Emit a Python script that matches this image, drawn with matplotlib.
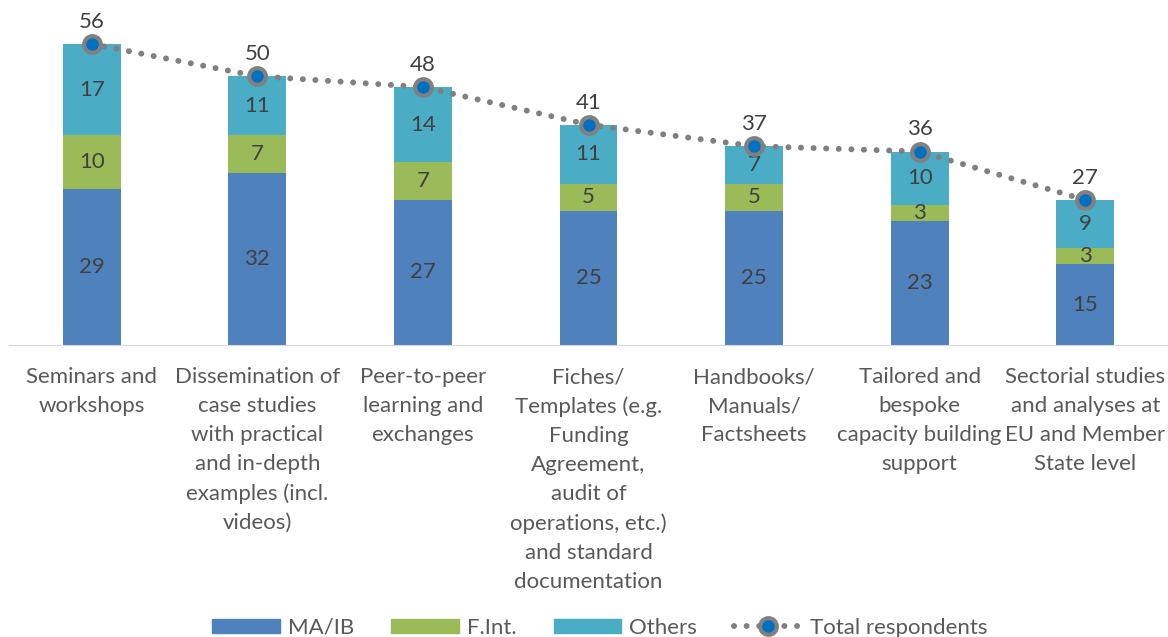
import numpy as np
import matplotlib.pyplot as plt
from matplotlib.lines import Line2D
from matplotlib.patches import Patch

# data
categories = [
    "Seminars and\nworkshops",
    "Dissemination of\ncase studies\nwith practical\nand in-depth\nexamples (incl.\nvideos)",
    "Peer-to-peer\nlearning and\nexchanges",
    "Fiches/\nTemplates (e.g.\nFunding\nAgreement,\naudit of\noperations, etc.)\nand standard\ndocumentation",
    "Handbooks/\nManuals/\nFactsheets",
    "Tailored and\nbespoke\ncapacity building\nsupport",
    "Sectorial studies\nand analyses at\nEU and Member\nState level",
]
ma_ib = [29, 32, 27, 25, 25, 23, 15]
f_int = [10, 7, 7, 5, 5, 3, 3]
others = [17, 11, 14, 11, 7, 10, 9]
totals = [56, 50, 48, 41, 37, 36, 27]

plt.rcParams['font.family'] = ['Lato', 'DejaVu Sans']
txt = '#595959'
num = '#404040'
c_ma, c_fi, c_ot = '#4F81BD', '#9BBB59', '#4BACC6'
fs = 16

fig = plt.figure(figsize=(11.68, 6.37), dpi=100)
ax = fig.add_axes([9 / 1168, 1 - 345 / 637, 1 - 9 / 1168, (345 - 22.5) / 637])

x = np.arange(len(categories))
w = 0.35
ma = np.array(ma_ib)
fi = np.array(f_int)
ot = np.array(others)

ax.bar(x, ma, w, color=c_ma, label='MA/IB')
ax.bar(x, fi, w, bottom=ma, color=c_fi, label='F.Int.')
ax.bar(x, ot, w, bottom=ma + fi, color=c_ot, label='Others')

# segment labels
for i in range(len(x)):
    for bot, val in [(0, ma[i]), (ma[i], fi[i]), (ma[i] + fi[i], ot[i])]:
        ax.text(x[i], bot + val / 2, str(val), ha='center', va='center',
                fontsize=fs, color=num)

line_kw = dict(linestyle=(0, (0.01, 2.1)), dash_capstyle='round',
               color='#808080', linewidth=4.3, marker='o', markersize=12,
               markerfacecolor='#0070C0', markeredgecolor='#808080',
               markeredgewidth=3)
ax.plot(x, totals, zorder=5, **line_kw)
for i in range(len(x)):
    ax.text(x[i], totals[i] + 4.1, str(totals[i]), ha='center', va='center',
            fontsize=fs, color=num)

ax.set_xlim(-0.5, len(x) - 0.5)
ax.set_ylim(0, 60)
ax.set_yticks([])
for s in ['top', 'right', 'left']:
    ax.spines[s].set_visible(False)
ax.spines['bottom'].set_color('#D9D9D9')
ax.set_xticks(x)
ax.set_xticklabels(categories, fontsize=fs, color=txt)
ax.tick_params(axis='x', length=0, pad=16)
for lbl in ax.get_xticklabels():
    lbl.set_linespacing(1.56)

handles = [
    Patch(color=c_ma, label='MA/IB'),
    Patch(color=c_fi, label='F.Int.'),
    Patch(color=c_ot, label='Others'),
    Line2D([0], [0], label='Total respondents', **line_kw),
]
leg = fig.legend(handles=handles, loc='center', bbox_to_anchor=(600 / 1168, 1 - 628 / 637),
                 ncol=4, frameon=False, fontsize=fs, handlelength=3.05,
                 handleheight=0.62, columnspacing=1.66, handletextpad=0.36,
                 borderpad=0)
for t in leg.get_texts():
    t.set_color(txt)

fig.savefig('out.png', dpi=100)
